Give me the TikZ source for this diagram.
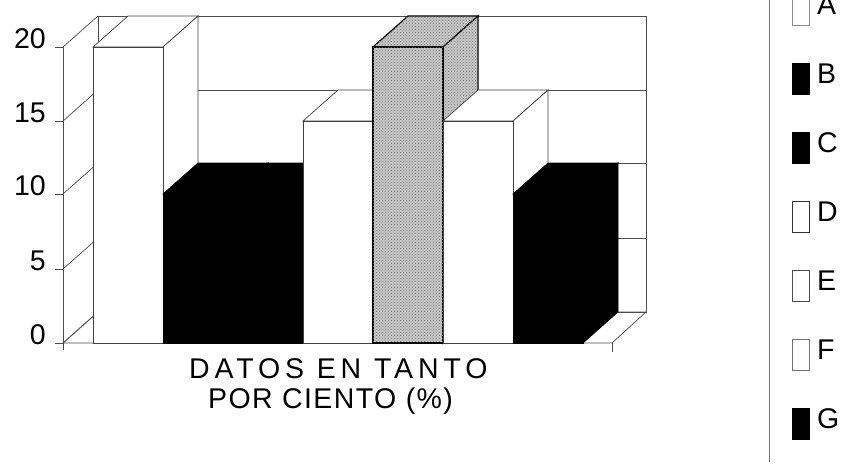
\documentclass[tikz,border=0pt]{standalone}
\usepackage{fontspec}
\setmainfont{Liberation Sans}
\usetikzlibrary{patterns}
\tikzset{
  gline/.style={draw=black!70, line width=0.7pt},
  wbar/.style={fill=white, draw=black!75, line width=0.7pt},
  kbar/.style={fill=black, draw=black, line width=0.7pt},
  sbar/.style={fill=black!22, draw=black, line width=1.2pt},
  lab/.style={font=\fontsize{28.5}{30}\selectfont, inner sep=0pt},
  captxt/.style={font=\fontsize{28.5}{30}\selectfont, inner sep=0pt},
}
% bar: front left x, front top y, style
\newcommand{\drawbar}[3]{%
  \path[#3] (#1,#2) -- ++(35,-31) -- ++(70,0) -- ++(-35,31) -- cycle;
  \path[#3] (#1+70,#2) -- ++(35,-31) -- (#1+105,312) -- (#1+70,343) -- cycle;
  \path[#3] (#1,#2) rectangle (#1+70,343);
}
\begin{document}
\begin{tikzpicture}[x=1pt,y=-1pt]
\useasboundingbox (0,0) rectangle (852,469);
% back wall
\draw[gline] (98,16) rectangle (646,312);
\foreach \yy in {90,163,238} \draw[gline] (98,\yy) -- (646,\yy);
% left wall
\foreach \yy in {47,121,194,269,343} \draw[gline] (63,\yy) -- ++(35,-31);
\draw[gline] (63,47) -- (63,343);
% floor
\draw[gline] (63,343) -- (98,312) -- (646,312) -- (612,343) -- cycle;
% ticks
\foreach \yy in {47,121,194,269,343} \draw[gline] (55,\yy) -- (63,\yy);
\draw[gline] (63,343) -- (63,350);
\draw[gline] (612,343) -- (612,352);
% bars
\drawbar{93}{47}{wbar}
\drawbar{163}{194}{kbar}
\drawbar{233}{194}{kbar}
\drawbar{303}{121}{wbar}
\drawbar{373}{47}{sbar}
\path[pattern=crosshatch dots, pattern color=black!55] (373,47) -- (408,16) -- (478,16) -- (478,90) -- (443,121) -- (443,343) -- (373,343) -- cycle;
\drawbar{443}{121}{wbar}
\drawbar{513}{194}{kbar}
% axis labels
\node[lab, anchor=base east] (l20) at (46,48) {20};
\node[lab, anchor=base east] (l15) at (46,122) {15};
\node[lab, anchor=base east] (l10) at (46,195) {10};
\node[lab, anchor=base east] (l5) at (46,270) {5};
\node[lab, anchor=base east] (l0) at (46,344) {0};
% caption
\node[captxt, anchor=base west] (c1) at (189,378) {\addfontfeature{LetterSpace=17}DATOS EN TANTO};
\node[captxt, anchor=base west] (c2) at (208,408) {\addfontfeature{LetterSpace=5}POR CIENTO (\%)};
% legend
\draw[draw=black!55, line width=0.7pt] (769,0) -- (769,462);
\foreach \nm/\fc/\dc [count=\i from 0] in {A/white/black!45,B/black/black,C/black/black,D/white/black!80,E/white/black!70,F/white/black!55,G/black/black}{
  \pgfmathsetmacro{\ty}{-6+69*\i}
  \path[fill=\fc, draw=\dc, line width=0.7pt] (792,\ty) rectangle (809,\ty+31);
  \node[lab, anchor=base west] (leg\nm) at (817,\ty+20) {\nm};
}
\end{tikzpicture}
\end{document}
